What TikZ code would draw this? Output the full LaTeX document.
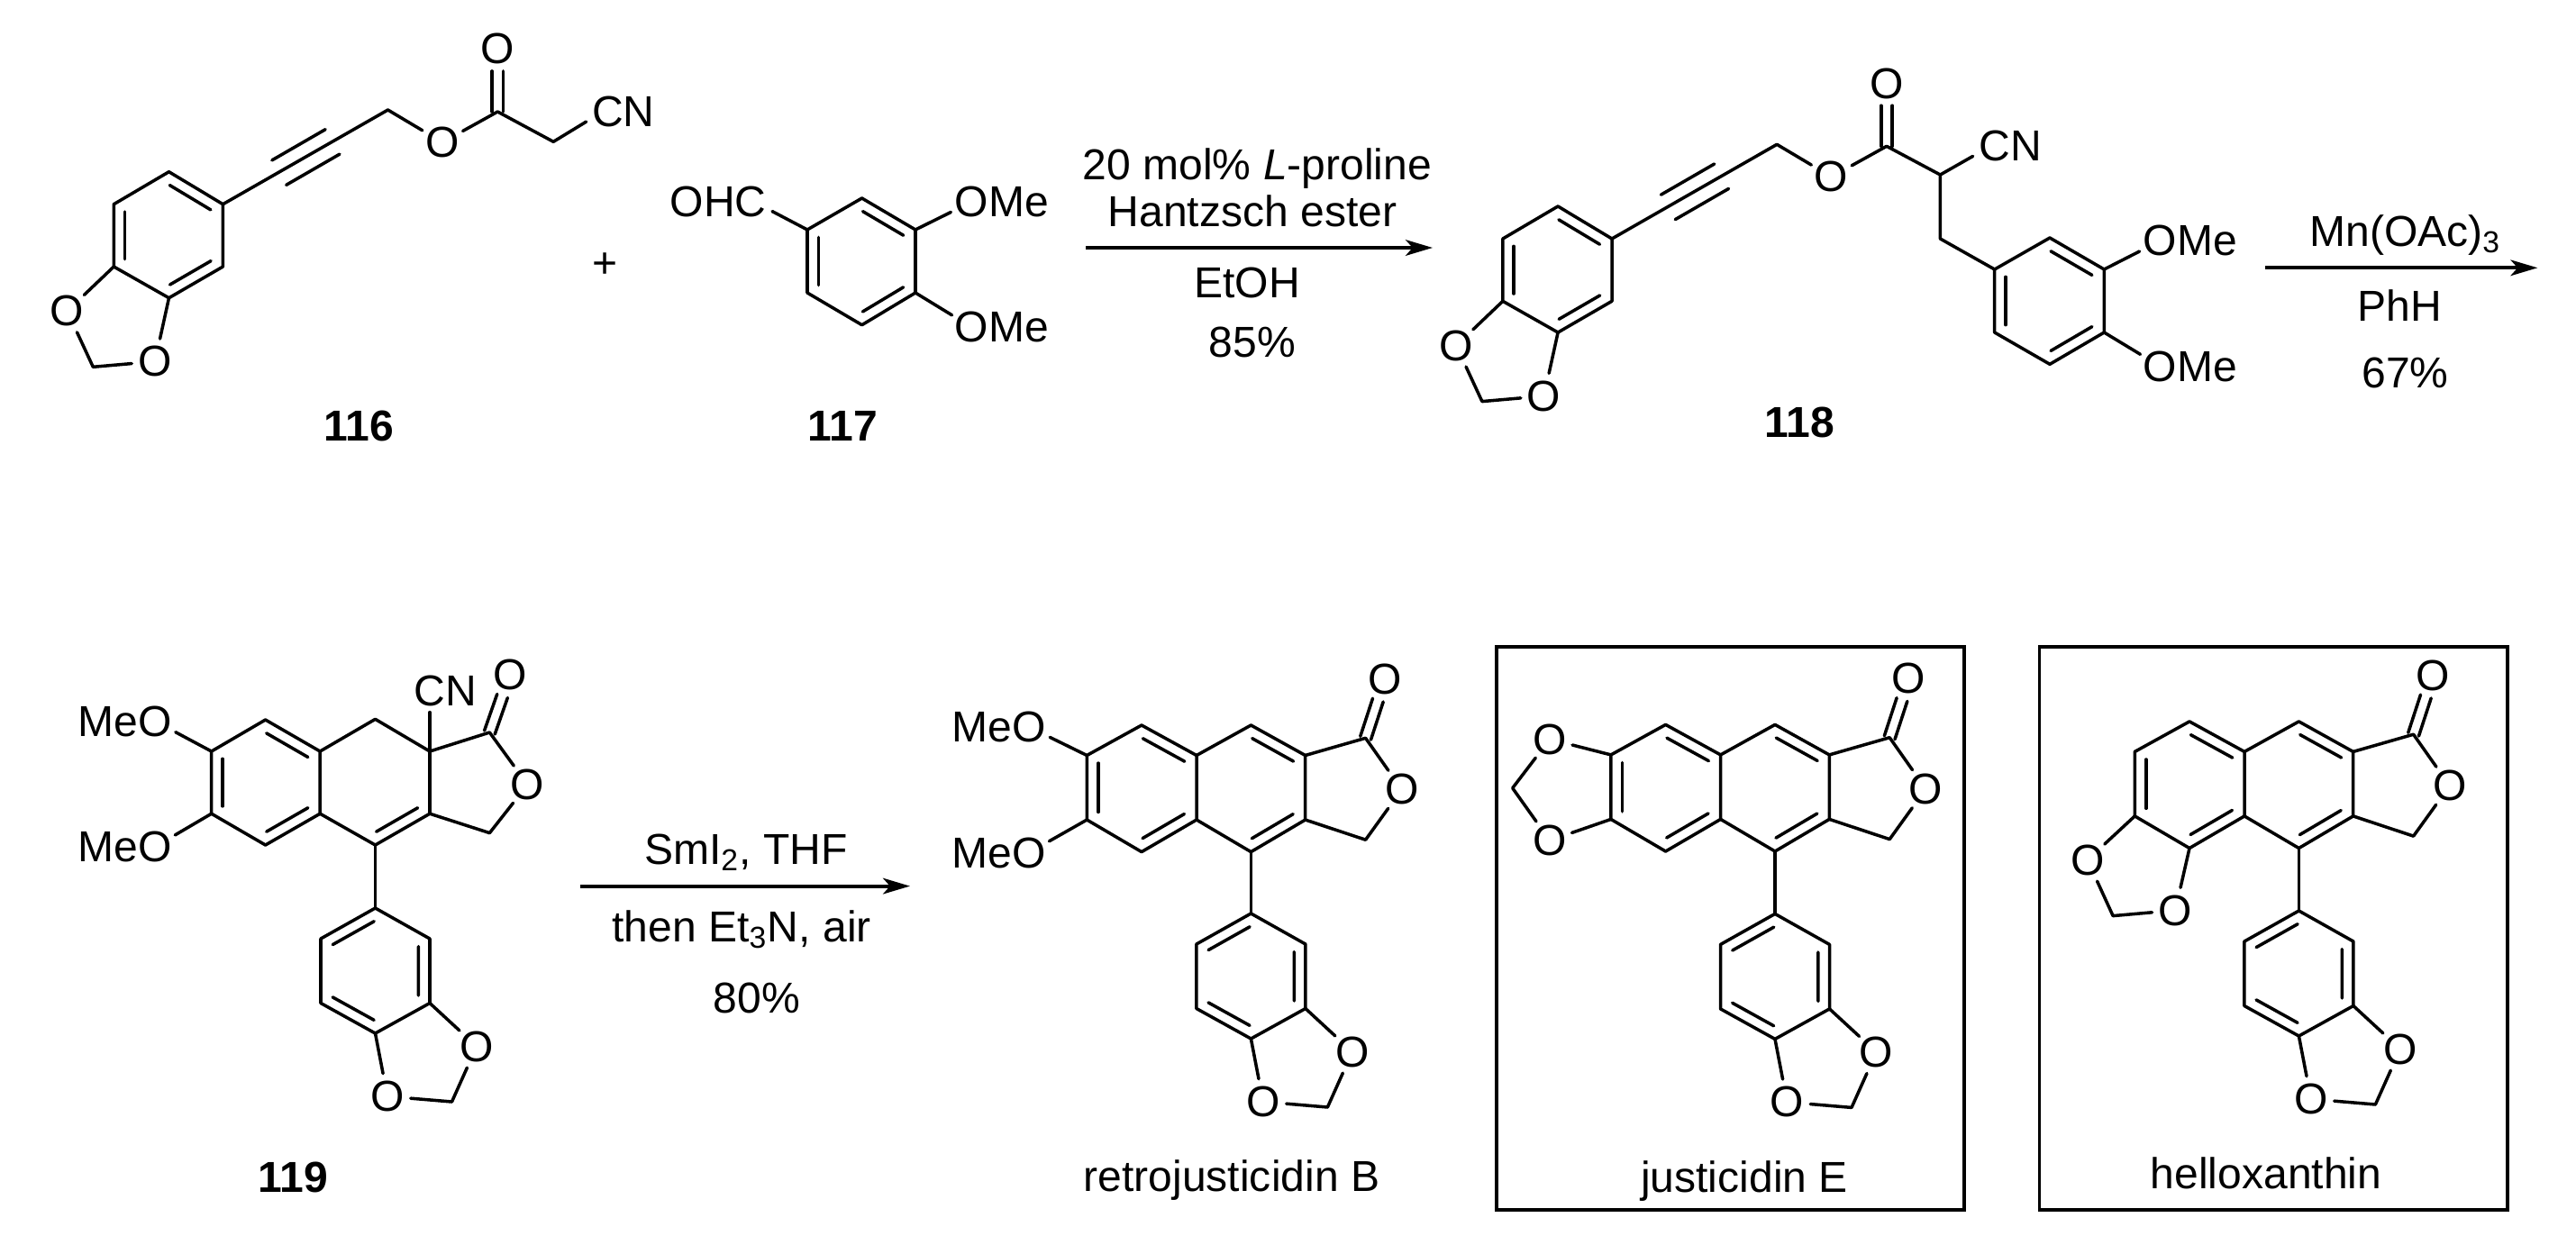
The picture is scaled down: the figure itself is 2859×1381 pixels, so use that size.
\documentclass[tikz,border=0pt]{standalone}
\usepackage{fontspec}
\setmainfont{Liberation Sans}
\usetikzlibrary{calc,arrows.meta}
% inner line of a ring double bond, on the left of #1 -> #2
\newcommand{\ringdb}[2]{\draw[bond] ($(#1)!0.12!(#2)!0.2!90:(#2)$) -- ($(#2)!0.12!(#1)!0.2!-90:(#1)$);}
\newcommand{\carbonyl}[2]{%
\draw[bond,shorten >=7pt] ($(#1)!1.75pt!90:(#2)$) -- ($(#2)!1.75pt!-90:(#1)$);
\draw[bond,shorten >=7pt] ($(#1)!1.75pt!-90:(#2)$) -- ($(#2)!1.75pt!90:(#1)$);}
% OMe and MeO: the O is the node that takes the bond
\newcommand{\oMe}[2]{\node[atom] (#1) at (#2) {O};
\node[txt,anchor=base west] (#1-me) at ($(#1.base)+(18.5,0)$) {Me};}
\newcommand{\Meo}[2]{\node[atom] (#1) at (#2) {O};
\node[txt,anchor=base east] (#1-me) at ($(#1.base)+(-18.5,0)$) {Me};}
\tikzset{
bond/.style = {line width=1pt,line join=round,line cap=round},
atom/.style = {shape=circle,inner sep=0pt,font=\fontsize{13.66}{16}\selectfont},
txt/.style = {inner sep=0pt,font=\fontsize{13.66}{16}\selectfont},
reag/.style = {txt,anchor=base},
num/.style = {reag,font=\fontsize{13.66}{16}\selectfont\bfseries},
group/.style = {inner sep=1.7pt,font=\fontsize{13.66}{16}\selectfont},
rxn/.style = {line width=1.2pt,-{Stealth[length=8.5pt,width=5pt,inset=2.2pt]}},
frame/.style = {line width=1.05pt},
% aryl with the dioxole ring, origin at the ipso carbon
dioxaryl/.pic = {
\coordinate (-a1) at (0,0);
\coordinate (-a2) at (60.5,34);
\coordinate (-a3) at (60.5,105.5);
\coordinate (-a4) at (0,139);
\coordinate (-a5) at (-60.5,105.5);
\coordinate (-a6) at (-60.5,34);
\coordinate (-dm) at (85,215);
\node[atom] (-ox1) at (112.5,153.5) {O};
\node[atom] (-ox2) at (13.5,209) {O};
\draw[bond] (-a1) -- (-a2) -- (-a3) -- (-a4) -- (-a5) -- (-a6) -- cycle;
\draw[bond] (-a3) -- (-ox1) -- (-dm) -- (-ox2) -- (-a4);
\ringdb{-a1}{-a6}
\ringdb{-a5}{-a4}
\ringdb{-a3}{-a2}
},
% naphthalene and lactone, origin at the carbon that carries the aryl
lignan/.pic = {
\coordinate (-l1) at (-182.1,-107.1);
\coordinate (-l2) at (-121.4,-140.6);
\coordinate (-l3) at (-60.4,-107.1);
\coordinate (-l4) at (-60.4,-35.6);
\coordinate (-l5) at (-121.4,0);
\coordinate (-l6) at (-182.1,-35.6);
\coordinate (-r1) at (0,-140.6);
\coordinate (-r2) at (60.3,-107.1);
\coordinate (-r3) at (60.3,-35.6);
\coordinate (-r4) at (0,0);
\coordinate (-lc) at (127.2,-126.3);
\coordinate (-lh) at (127.2,-13.4);
\node[atom] (-lk) at (148.6,-191.9) {O};
\node[atom] (-lo) at (167.4,-69.2) {O};
\draw[bond] (-l1) -- (-l2) -- (-l3) -- (-l4) -- (-l5) -- (-l6) -- cycle;
\draw[bond] (-l3) -- (-r1) -- (-r2) -- (-r3) -- (-r4) -- (-l4);
\draw[bond] (-r2) -- (-lc) -- (-lo) -- (-lh) -- (-r3);
\carbonyl{-lc}{-lk}
\ringdb{-l1}{-l6}
\ringdb{-l5}{-l4}
\ringdb{-l3}{-l2}
\ringdb{-r4}{-r3}
\ringdb{-r2}{-r1}
},
% left part of 116 and 118, up to the ester carbon
ynester/.pic = {
\coordinate (-r1) at (187.5,190.7);
\coordinate (-r2) at (247.4,226.7);
\coordinate (-r3) at (247.4,296);
\coordinate (-r4) at (187.5,330.7);
\coordinate (-r5) at (126.3,296);
\coordinate (-r6) at (126.3,226.7);
\coordinate (-dm) at (103.3,407.3);
\coordinate (-yn1) at (300.4,197);
\coordinate (-yn2) at (378.4,152);
\coordinate (-ch) at (430.5,122);
\coordinate (-cx) at (552.3,124);
\node[atom] (-ox1) at (74.6,345.3) {O};
\node[atom] (-ox2) at (172,401.3) {O};
\node[atom] (-oe) at (491,158) {O};
\node[atom] (-ok) at (552.3,54.3) {O};
\draw[bond] (-r1) -- (-r2) -- (-r3) -- (-r4) -- (-r5) -- (-r6) -- cycle;
\draw[bond] (-r5) -- (-ox1) -- (-dm) -- (-ox2) -- (-r4);
\draw[bond] (-r2) -- (-ch) -- (-oe) -- (-cx);
\carbonyl{-cx}{-ok}
\ringdb{-r6}{-r5}
\ringdb{-r4}{-r3}
\ringdb{-r2}{-r1}
\ringdb{-yn1}{-yn2}
\ringdb{-yn2}{-yn1}
}
}
\begin{document}
\begin{tikzpicture}[x=0.01cm,y=-0.01cm]
\useasboundingbox (0,0) rectangle (2859,1381);
% 116
\pic (m116) at (0,0) {ynester};
\coordinate (c116) at (614.2,157.3);
\node[group] (cn116) at (692,124) {CN};
\draw[bond] (m116-cx) -- (c116) -- (cn116.195);
\node[num] (n116) at (398.6,489.3) {116};
\node[txt] (plus) at (671.6,295) {+};
% 117
\coordinate (b1) at (956.6,220);
\coordinate (b2) at (896,255);
\coordinate (b3) at (896,325);
\coordinate (b4) at (956.6,360.7);
\coordinate (b5) at (1016,325);
\coordinate (b6) at (1016,255);
\node[group] (ohc) at (797,224) {OHC};
\oMe{ob1}{1078.6,224}
\oMe{ob2}{1078.6,363.3}
\draw[bond] (b1) -- (b2) -- (b3) -- (b4) -- (b5) -- (b6) -- cycle;
\draw[bond] (b2) -- (ohc.-10);
\draw[bond] (b6) -- (ob1);
\draw[bond] (b5) -- (ob2);
\ringdb{b2}{b3}
\ringdb{b4}{b5}
\ringdb{b6}{b1}
\node[num] (n117) at (935.6,489.3) {117};
% first arrow
\coordinate (ar1a) at (1205.4,275);
\coordinate (ar1b) at (1590,275);
\draw[rxn] (ar1a) -- (ar1b);
\node[reag] (t1a) at (1395.4,199) {20 mol\% \textit{L}-proline};
\node[reag] (t1b) at (1390,251.7) {Hantzsch ester};
\node[reag] (t1c) at (1384,330) {EtOH};
\node[reag] (t1d) at (1390,396) {85\%};
% 118
\pic (m118) at (1541.6,38.3) {ynester};
\coordinate (c118) at (2153.4,194);
\coordinate (d118) at (2153.4,265);
\node[group] (cn118) at (2231,162.3) {CN};
\coordinate (e1) at (2275,264);
\coordinate (e2) at (2213.7,299);
\coordinate (e3) at (2213.7,369);
\coordinate (e4) at (2275,404.3);
\coordinate (e5) at (2335.3,369);
\coordinate (e6) at (2335.3,299);
\oMe{oe1}{2397.6,267.3}
\oMe{oe2}{2397.6,406.7}
\draw[bond] (m118-cx) -- (c118) -- (d118) -- (e2);
\draw[bond] (c118) -- (cn118.195);
\draw[bond] (e1) -- (e2) -- (e3) -- (e4) -- (e5) -- (e6) -- cycle;
\draw[bond] (e6) -- (oe1);
\draw[bond] (e5) -- (oe2);
\ringdb{e2}{e3}
\ringdb{e4}{e5}
\ringdb{e6}{e1}
\node[num] (n118) at (1997,485) {118};
% second arrow
\coordinate (ar2a) at (2514,297.3);
\coordinate (ar2b) at (2816.4,297.3);
\draw[rxn] (ar2a) -- (ar2b);
\node[reag] (t2a) at (2669.6,273.3) {Mn(OAc)\textsubscript{3}};
\node[reag] (t2b) at (2663,356) {PhH};
\node[reag] (t2c) at (2669.6,430) {67\%};
% 119
\coordinate (p1) at (234.7,834);
\coordinate (p2) at (294.6,799);
\coordinate (p3) at (355.2,834);
\coordinate (p4) at (355.2,903.2);
\coordinate (p5) at (294.6,938);
\coordinate (p6) at (234.7,903.2);
\coordinate (q1) at (416.5,798.3);
\coordinate (q2) at (477,834);
\coordinate (q3) at (477,903.2);
\coordinate (q4) at (416.5,938);
\coordinate (q5) at (543.4,813);
\coordinate (q6) at (543.4,924.6);
\node[atom] (qk) at (565.7,749.2) {O};
\node[atom] (qo) at (585.5,871) {O};
\node[group] (cn119) at (494.3,767) {CN};
\Meo{op1}{172,800.5}
\Meo{op2}{172,940}
\draw[bond] (p1) -- (p2) -- (p3) -- (p4) -- (p5) -- (p6) -- cycle;
\draw[bond] (p3) -- (q1) -- (q2) -- (q3) -- (q4) -- (p4);
\draw[bond] (q2) -- (q5) -- (qo) -- (q6) -- (q3);
\draw[bond] (q2) -- (cn119.south -| q2);
\draw[bond] (p1) -- (op1);
\draw[bond] (p6) -- (op2);
\carbonyl{q5}{qk}
\ringdb{p1}{p6}
\ringdb{p5}{p4}
\ringdb{p3}{p2}
\ringdb{q4}{q3}
\pic (ar119) at (416.5,1008) {dioxaryl};
\draw[bond] (q4) -- (ar119-a1);
\node[num] (n119) at (325,1323.7) {119};
% third arrow
\coordinate (ar3a) at (644,983.6);
\coordinate (ar3b) at (1010,983.6);
\draw[rxn] (ar3a) -- (ar3b);
\node[reag] (t3a) at (828,959) {SmI\textsubscript{2}, THF};
\node[reag] (t3b) at (823,1045) {then Et\textsubscript{3}N, air};
\node[reag] (t3c) at (840,1124) {80\%};
% retrojusticidin B
\pic (rb) at (1388.4,945.6) {lignan};
\pic (arb) at (1388.4,1014) {dioxaryl};
\draw[bond] (rb-r4) -- (arb-a1);
\Meo{orb1}{1142,807}
\Meo{orb2}{1142,946.5}
\draw[bond] (rb-l1) -- (orb1);
\draw[bond] (rb-l6) -- (orb2);
\node[reag] (lrb) at (1367,1322.9) {retrojusticidin B};
% justicidin E
\draw[frame] (1661,718) rectangle (2180,1343);
\pic (je) at (1970,945) {lignan};
\pic (aje) at (1970,1014.4) {dioxaryl};
\draw[bond] (je-r4) -- (aje-a1);
\coordinate (dje) at (1678.7,874.8);
\node[atom] (oje1) at (1720,820.6) {O};
\node[atom] (oje2) at (1720,932.9) {O};
\draw[bond] (je-l1) -- (oje1) -- (dje) -- (oje2) -- (je-l6);
\node[reag] (lje) at (1936,1323.6) {justicidin E};
% helloxanthin
\draw[frame] (2263.6,718) rectangle (2783,1343);
\pic (hx) at (2551.4,941.5) {lignan};
\pic (ahx) at (2551.4,1011) {dioxaryl};
\draw[bond] (hx-r4) -- (ahx-a1);
\coordinate (dhx) at (2345.1,1016.6);
\node[atom] (ohx1) at (2316.8,954.6) {O};
\node[atom] (ohx2) at (2414.3,1010.5) {O};
\draw[bond] (hx-l6) -- (ohx1) -- (dhx) -- (ohx2) -- (hx-l5);
\node[reag] (lhx) at (2515,1319.3) {helloxanthin};
\end{tikzpicture}
\end{document}
